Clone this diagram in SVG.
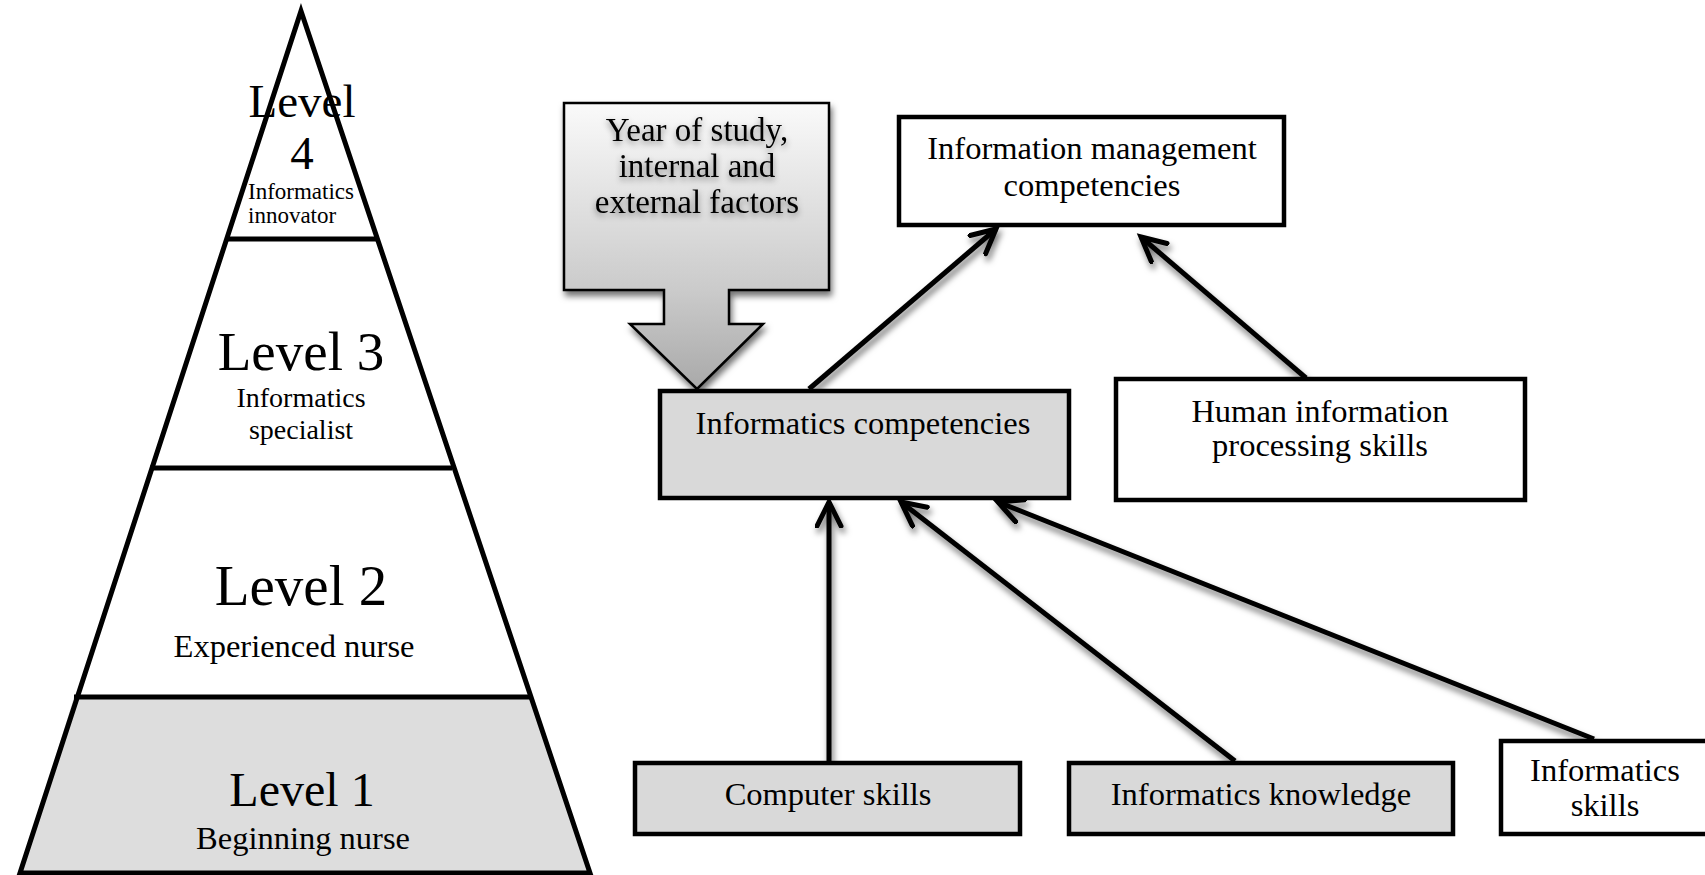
<svg xmlns="http://www.w3.org/2000/svg" width="1705" height="875" viewBox="0 0 1705 875">
<style>
  text { font-family: "Liberation Serif", "Times New Roman", serif; fill: #000; text-anchor: middle; }
  .box { stroke: #000; stroke-width: 4.5; }
  .white { fill: #fff; }
  .gray { fill: #d9d9d9; }
  .t32 { font-size: 32.5px; }
  .pyr { stroke: #000; stroke-width: 5; fill: none; }
  .conn line { stroke: #000; stroke-width: 5; marker-end: url(#open); }
</style>
<defs>
  <marker id="open" markerUnits="userSpaceOnUse" markerWidth="40" markerHeight="40" refX="26" refY="14" orient="auto">
    <path d="M2,2 L26,14 L2,26" fill="none" stroke="#000" stroke-width="5" stroke-linecap="round" stroke-linejoin="miter"/>
  </marker>
  <linearGradient id="yg" gradientUnits="userSpaceOnUse" x1="0" y1="103" x2="0" y2="389">
    <stop offset="0" stop-color="#fafafa"/>
    <stop offset="0.65" stop-color="#cbcbcb"/>
    <stop offset="1" stop-color="#a9a9a9"/>
  </linearGradient>
  <filter id="sh" x="-20%" y="-20%" width="140%" height="160%">
    <feDropShadow dx="2" dy="5" stdDeviation="3" flood-color="#000" flood-opacity="0.55"/>
  </filter>
  <filter id="tsh" x="-20%" y="-40%" width="140%" height="180%">
    <feDropShadow dx="0" dy="3" stdDeviation="3" flood-color="#000" flood-opacity="0.45"/>
  </filter>
</defs>

<g id="pyramid">
  <polygon points="74,697 530,697 590,873 20,873" fill="#dddddd"/>
  <polygon points="301,11 590,873 20,873" class="pyr"/>
  <line x1="227" y1="239" x2="377" y2="239" class="pyr"/>
  <line x1="150" y1="468" x2="452" y2="468" class="pyr"/>
  <line x1="74" y1="697" x2="530" y2="697" class="pyr"/>
  <g id="level4">
    <text x="302" y="117" font-size="47">Level</text>
    <text x="302" y="169" font-size="47">4</text>
    <text x="248" y="199" font-size="23" style="text-anchor:start">Informatics</text>
    <text x="248" y="223" font-size="23" style="text-anchor:start">innovator</text>
  </g>
  <g id="level3">
    <text x="301" y="370" font-size="55">Level 3</text>
    <text x="301" y="407" font-size="28">Informatics</text>
    <text x="301" y="439" font-size="28">specialist</text>
  </g>
  <g id="level2">
    <text x="301" y="605" font-size="57">Level 2</text>
    <text x="294" y="657" class="t32">Experienced nurse</text>
  </g>
  <g id="level1">
    <text x="302" y="806" font-size="48">Level 1</text>
    <text x="303" y="849" class="t32">Beginning nurse</text>
  </g>
</g>

<g id="connectors" filter="url(#sh)" class="conn">
  <line x1="809" y1="389" x2="996" y2="229"/>
  <line x1="1306" y1="378" x2="1141" y2="237"/>
  <line x1="829" y1="761" x2="829" y2="502"/>
  <line x1="1235" y1="761" x2="901" y2="502"/>
  <line x1="1594" y1="739" x2="998" y2="502"/>
</g>

<g id="year">
  <path d="M564,103 H829 V290 H729 V324 H763 L697,389 L630,324 H664 V290 H564 Z" fill="url(#yg)" stroke="#000" stroke-width="2.5" filter="url(#sh)"/>
  <g filter="url(#tsh)">
    <text x="697" y="141" font-size="33">Year of study,</text>
    <text x="697" y="177" font-size="33">internal and</text>
    <text x="697" y="213" font-size="33">external factors</text>
  </g>
</g>

<g id="info-mgmt">
  <rect x="899" y="117" width="385" height="108" class="box white"/>
  <text x="1092" y="159" class="t32">Information management</text>
  <text x="1092" y="196" class="t32">competencies</text>
</g>

<g id="informatics-comp">
  <rect x="660" y="391" width="409" height="107" class="box gray"/>
  <text x="863" y="434" class="t32">Informatics competencies</text>
</g>

<g id="human-info">
  <rect x="1116" y="379" width="409" height="121" class="box white"/>
  <text x="1320" y="422" class="t32">Human information</text>
  <text x="1320" y="456" class="t32">processing skills</text>
</g>

<g id="computer-skills">
  <rect x="635" y="763" width="385" height="71" class="box gray"/>
  <text x="828" y="805" class="t32">Computer skills</text>
</g>

<g id="informatics-knowledge">
  <rect x="1069" y="763" width="384" height="71" class="box gray"/>
  <text x="1261" y="805" class="t32">Informatics knowledge</text>
</g>

<g id="informatics-skills">
  <rect x="1501" y="741" width="215" height="93" class="box white"/>
  <text x="1605" y="781" class="t32">Informatics</text>
  <text x="1605" y="816" class="t32">skills</text>
</g>
</svg>
